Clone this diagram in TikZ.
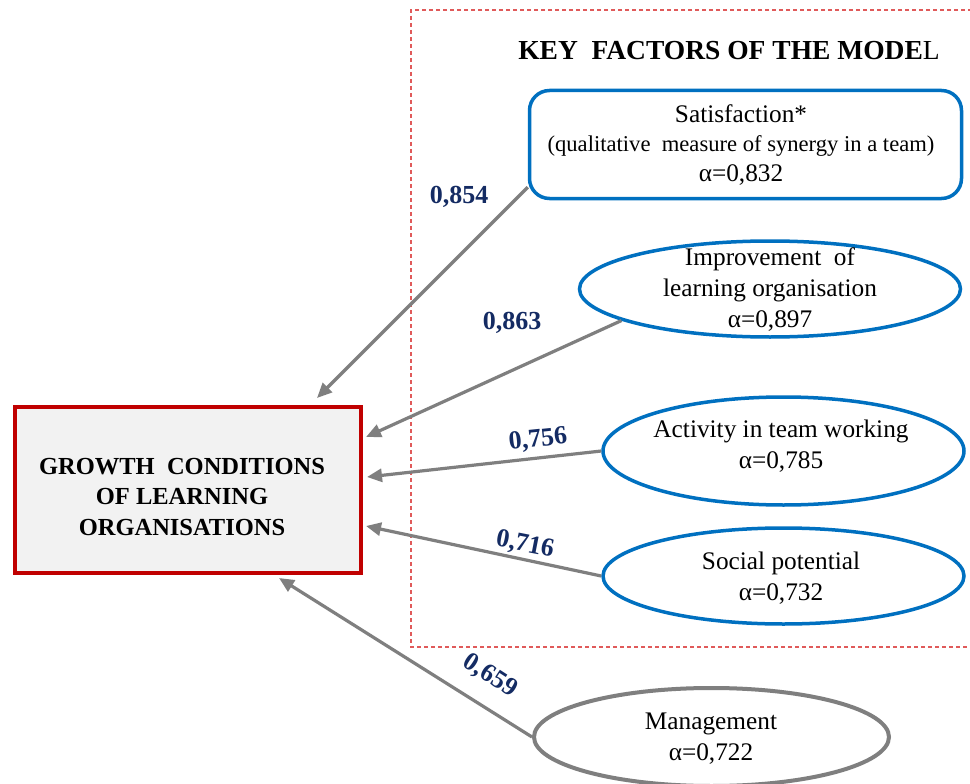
\documentclass[tikz,border=0pt]{standalone}
\usepackage{fontspec}
\setmainfont{Liberation Serif}
\usetikzlibrary{shapes.geometric,arrows.meta}
\definecolor{fblue}{HTML}{0070C0}
\definecolor{agray}{HTML}{7F7F7F}
\definecolor{bred}{HTML}{C00000}
\definecolor{bfill}{HTML}{F2F2F2}
\definecolor{lnavy}{HTML}{142B63}
\definecolor{dred}{HTML}{E05A5A}
\begin{document}
\begin{tikzpicture}[x=1pt,y=-1pt,
  bodyfont/.style={font=\fontsize{25.3}{31}\selectfont},
  fac/.style={ellipse,draw=fblue,line width=3.5pt,fill=white,inner sep=0pt},
  mgmt/.style={ellipse,draw=agray,line width=4pt,fill=white,inner sep=0pt},
  txt/.style={bodyfont,align=center,inner sep=0pt},
  conn/.style={draw=agray,line width=3.2pt,-{Triangle[length=15pt,width=13pt]}},
  coef/.style={font=\fontsize{26}{30}\selectfont\bfseries,text=lnavy,inner sep=0pt},
  dashbox/.style={draw=dred,line width=1.2pt,dash pattern=on 4pt off 3pt}
]
\useasboundingbox (0,0) rectangle (970,784);
\fill[white] (0,0) rectangle (970,784);

% dashed frame
\draw[dashbox] (972,10) -- (411,10) -- (411,647) -- (972,647);

% title
\node[inner sep=0pt,font=\fontsize{27.5}{30}\selectfont] (title) at (729,51)
  {\textbf{KEY\ \ FACTORS OF THE MODE}L};

% satisfaction box
\node[draw=fblue,line width=3.5pt,rounded corners=20pt,fill=white,
      minimum width=432pt,minimum height=108pt,inner sep=0pt] (sat) at (745.5,144.5) {};
\node[inner sep=0pt,align=center,font=\fontsize{25.3}{29.5}\selectfont] (sattext) at (741,145)
  {Satisfaction*\\
   {\fontsize{22.6}{29.5}\selectfont (qualitative\ \ measure of synergy in a team)}\\
   α=0,832};

% factor ellipses
\node[fac,minimum width=381pt,minimum height=96pt] (imp) at (770,289) {};
\node[txt] (imptext) at (770,290) {Improvement\ \ of\\learning organisation\\α=0,897};

\node[fac,minimum width=361pt,minimum height=108pt] (act) at (783.5,451) {};
\node[txt] (acttext) at (781,446) {Activity in team working\\α=0,785};

\node[fac,minimum width=361pt,minimum height=96pt] (soc) at (783.5,576) {};
\node[txt] (soctext) at (781,578) {Social potential\\α=0,732};

\node[mgmt,minimum width=355pt,minimum height=98pt] (man) at (711.5,737) {};
\node[txt] (mantext) at (711,739) {Management\\α=0,722};

% main box
\node[draw=bred,line width=4pt,fill=bfill,minimum width=346pt,minimum height=166pt,
      inner sep=0pt] (gc) at (188,490) {};
\node[inner sep=0pt,align=center,font=\fontsize{24.5}{30.5}\selectfont\bfseries]
  (gctext) at (182,497) {GROWTH\ \ CONDITIONS\\OF LEARNING\\ORGANISATIONS};

% arrow tips
\coordinate (t1) at (317,398);
\coordinate (t2) at (366,437);
\coordinate (t3) at (367,477);
\coordinate (t4) at (366,526);
\coordinate (t5) at (279,578);

\draw[conn] ([yshift=13pt]sat.south west) -- (t1);
\draw[conn] (imp.192) -- (t2);
\draw[conn] (act.180) -- (t3);
\draw[conn] (soc.180) -- (t4);
\draw[conn] (man.180) -- (t5);

% coefficients
\node[coef] (c1) at (459,197) {0,854};
\node[coef] (c2) at (512,323) {0,863};
\node[coef,rotate=6] (c3) at (538,440) {0,756};
\node[coef,rotate=-11] (c4) at (525,545) {0,716};
\node[coef,rotate=-33] (c5) at (490,676) {0,659};
\end{tikzpicture}
\end{document}
